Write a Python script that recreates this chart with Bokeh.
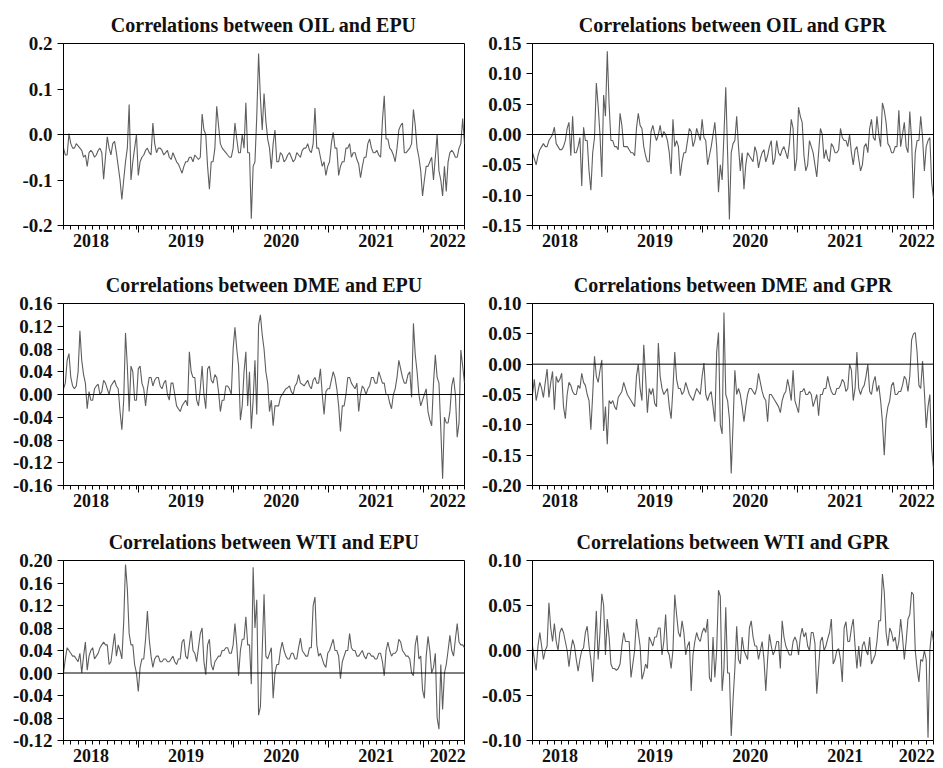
import numpy as np
import pandas as pd
from bokeh.plotting import figure
from bokeh.layouts import column, row
from bokeh.models import Range1d, FixedTicker, LinearAxis, Span, PrintfTickFormatter
from bokeh.embed import file_html
from bokeh.resources import INLINE

# ---------------- data: weekly observations read from the picture ----------------
# "_a" = weeks 1, 3, 5, ... (111 values), "_b" = weeks 2, 4, 6, ... (110 values)
dates = pd.date_range("2018-03-19", periods=221, freq="7D")

oil_epu_a = [-0.03, -0.045, -0.02, -0.03, -0.025, -0.035, -0.045, -0.04, -0.04, -0.045,
             -0.03, -0.098, -0.005, -0.045, -0.015, -0.07, -0.143, -0.06, 0.066, -0.06,
             0.0, -0.06, -0.045, -0.03, -0.045, -0.02, -0.03, -0.035, -0.04, -0.05,
             -0.04, -0.06, -0.075, -0.07, -0.06, -0.05, -0.045, -0.055, 0.045, 0.0,
             -0.12, -0.06, 0.062, -0.02, -0.035, -0.045, -0.05, 0.025, -0.04, 0.0,
             0.07, -0.04, -0.07, 0.04, 0.08, 0.09, -0.01, -0.075, 0.01, -0.06,
             -0.045, -0.055, -0.04, -0.06, -0.04, -0.05, -0.03, -0.02, -0.04, 0.058,
             -0.03, -0.07, -0.09, -0.06, 0.005, -0.03, -0.07, -0.06, -0.03, -0.05,
             -0.04, -0.065, -0.07, -0.05, -0.01, -0.04, -0.035, -0.05, 0.085, -0.01,
             -0.035, -0.06, 0.01, 0.025, -0.04, -0.03, 0.055, -0.03, -0.08, -0.1,
             -0.07, -0.05, -0.05, -0.08, -0.135, -0.125, -0.04, -0.04, -0.05, -0.02, -0.02]
oil_epu_b = [-0.045, 0.002, -0.03, -0.02, -0.03, -0.05, -0.07, -0.035, -0.05, -0.035,
             -0.04, -0.05, -0.03, -0.02, -0.04, -0.1, -0.1, -0.03, -0.1, -0.03,
             -0.09, -0.05, -0.035, -0.04, 0.025, -0.04, -0.03, -0.045, -0.035, -0.055,
             -0.05, -0.065, -0.085, -0.06, -0.05, -0.06, -0.05, -0.05, 0.01, -0.07,
             -0.06, -0.03, 0.02, -0.03, -0.04, -0.05, -0.03, -0.01, -0.04, -0.03,
             -0.04, -0.185, -0.06, 0.178, 0.01, 0.03, -0.03, -0.02, -0.06, -0.04,
             -0.06, -0.045, -0.05, -0.055, -0.045, -0.035, -0.03, -0.035, -0.02, -0.03,
             -0.05, -0.06, -0.07, -0.02, -0.03, -0.09, -0.06, -0.03, -0.02, -0.04,
             -0.055, -0.095, -0.05, -0.02, -0.03, -0.04, -0.045, 0.03, -0.01, -0.03,
             -0.045, -0.03, 0.02, -0.04, -0.035, -0.02, 0.02, -0.05, -0.135, -0.07,
             -0.06, -0.1, 0.0, -0.1, -0.07, -0.06, -0.035, -0.05, -0.03, 0.035]

oil_gpr_a = [-0.03, -0.05, -0.025, -0.015, -0.02, -0.005, 0.012, -0.02, -0.025, -0.01,
             0.02, 0.03, -0.03, -0.005, 0.012, -0.01, -0.092, -0.005, 0.047, -0.07,
             0.03, 0.05, -0.01, -0.02, 0.035, -0.02, -0.02, -0.03, -0.035, 0.035,
             0.01, -0.035, -0.045, 0.015, -0.01, 0.015, 0.005, -0.01, -0.065, -0.02,
             -0.02, -0.045, -0.03, 0.01, -0.02, 0.01, -0.01, -0.005, -0.05, -0.02,
             0.02, -0.095, -0.075, 0.078, -0.14, -0.015, 0.03, -0.06, -0.09, -0.03,
             -0.04, -0.02, -0.055, -0.03, -0.045, -0.02, -0.05, -0.01, -0.035, -0.02,
             -0.04, 0.025, -0.06, 0.045, 0.02, -0.06, -0.01, -0.03, -0.07, 0.01,
             -0.04, -0.04, -0.015, -0.03, -0.025, -0.005, -0.01, 0.0, -0.05, -0.02,
             -0.06, -0.02, -0.03, 0.025, -0.01, 0.0, 0.052, 0.02, -0.02, -0.03,
             -0.02, -0.02, 0.02, -0.03, -0.01, -0.03, -0.01, -0.005, -0.02, -0.005, -0.105]
oil_gpr_b = [-0.04, -0.035, -0.02, -0.02, -0.01, 0.0, -0.015, -0.025, -0.02, 0.01,
             -0.035, -0.03, -0.02, -0.085, -0.01, -0.06, -0.03, 0.085, 0.0, 0.065,
             0.137, -0.01, -0.02, -0.025, 0.015, -0.02, -0.025, -0.03, 0.01, 0.015,
             -0.02, -0.045, 0.005, 0.0, 0.0, -0.005, 0.0, -0.03, 0.025, -0.01,
             -0.068, -0.03, -0.01, 0.005, -0.01, 0.0, 0.025, -0.01, -0.035, 0.0,
             -0.02, -0.05, 0.0, -0.03, -0.03, -0.01, -0.02, -0.03, -0.05, -0.035,
             -0.045, -0.03, -0.04, -0.025, -0.035, -0.01, -0.04, -0.03, -0.025, -0.03,
             -0.015, 0.01, -0.04, 0.03, -0.035, -0.05, -0.02, -0.05, -0.03, 0.0,
             -0.025, -0.045, -0.02, -0.03, 0.01, -0.01, -0.02, -0.03, -0.025, -0.04,
             -0.05, -0.015, 0.01, -0.005, 0.03, -0.02, 0.04, -0.015, -0.03, -0.02,
             0.04, 0.0, -0.02, 0.038, -0.105, -0.01, 0.03, -0.06, -0.01, -0.08]

dme_epu_a = [0.01, 0.06, 0.03, 0.01, 0.04, 0.06, 0.02, 0.005, -0.01, 0.015,
             0.0, 0.025, 0.01, 0.015, 0.025, 0.01, -0.062, 0.108, -0.03, 0.04,
             -0.01, 0.05, 0.01, 0.01, 0.03, 0.025, 0.03, 0.01, 0.025, -0.01,
             0.02, -0.02, -0.03, -0.015, -0.02, 0.04, 0.03, -0.02, 0.05, -0.025,
             0.05, 0.02, 0.03, -0.03, -0.01, 0.015, 0.0, 0.118, 0.05, -0.02,
             0.075, 0.04, -0.01, -0.035, 0.14, 0.08, 0.02, -0.01, -0.02, -0.02,
             0.0, 0.01, 0.015, 0.0, 0.02, 0.02, 0.015, 0.025, 0.01, 0.03,
             0.02, 0.0, 0.005, 0.01, 0.04, 0.01, -0.065, -0.02, 0.03, 0.02,
             0.01, -0.03, 0.015, 0.0, 0.015, 0.03, 0.02, 0.03, 0.02, 0.0,
             -0.025, 0.01, 0.06, 0.03, 0.02, 0.04, 0.125, 0.04, -0.02, 0.0,
             -0.03, -0.055, 0.07, 0.02, -0.148, -0.05, -0.03, 0.03, -0.075, 0.078, 0.02]
dme_epu_b = [0.02, 0.072, 0.015, 0.015, 0.112, 0.035, -0.025, -0.01, 0.01, 0.018,
             0.005, 0.02, 0.0, 0.02, 0.015, -0.03, -0.01, 0.05, 0.05, -0.01,
             0.045, 0.02, -0.02, 0.03, 0.015, 0.03, 0.015, 0.02, 0.0, 0.02,
             0.0, -0.025, -0.02, -0.01, 0.075, 0.03, -0.01, 0.01, 0.0, 0.045,
             0.025, 0.035, 0.005, -0.01, 0.015, 0.01, 0.08, 0.08, -0.045, 0.04,
             -0.02, -0.06, 0.06, 0.122, 0.105, 0.04, -0.03, -0.055, -0.02, -0.005,
             0.005, 0.012, 0.005, 0.015, 0.035, 0.018, 0.02, 0.015, 0.025, 0.02,
             0.045, -0.035, 0.01, 0.025, 0.03, -0.02, -0.02, 0.0, 0.03, 0.015,
             0.02, 0.0, 0.01, 0.01, 0.03, 0.02, 0.04, 0.02, 0.0, -0.015,
             0.0, 0.03, 0.045, 0.02, 0.035, -0.005, 0.07, 0.0, -0.01, 0.01,
             -0.045, 0.02, 0.03, -0.06, -0.04, -0.05, 0.015, 0.0, -0.05, 0.05]

dme_gpr_a = [-0.05, -0.06, -0.03, -0.055, -0.008, -0.03, -0.075, -0.03, -0.015, -0.09,
             -0.03, -0.045, -0.05, -0.04, -0.03, -0.05, -0.108, 0.013, -0.03, 0.007,
             -0.07, -0.06, -0.06, -0.075, -0.05, -0.03, -0.05, -0.06, -0.07, 0.0,
             -0.06, -0.02, -0.04, -0.04, -0.07, -0.02, -0.05, -0.04, -0.09, 0.02,
             -0.04, -0.05, -0.03, -0.05, -0.06, -0.04, -0.05, 0.002, -0.06, -0.045,
             -0.095, 0.052, -0.115, -0.05, -0.09, -0.1, -0.05, -0.05, -0.095, -0.05,
             -0.04, -0.05, -0.015, -0.045, -0.06, -0.05, -0.055, -0.065, -0.08, -0.05,
             -0.025, -0.06, -0.06, -0.08, -0.045, -0.05, -0.045, -0.07, -0.05, -0.05,
             -0.04, -0.02, -0.045, -0.05, -0.04, -0.025, -0.045, 0.0, -0.06, 0.02,
             -0.05, -0.035, 0.0, -0.05, -0.02, -0.035, -0.095, -0.09, -0.06, -0.03,
             -0.05, -0.045, -0.02, -0.045, 0.04, 0.052, -0.035, 0.005, -0.105, -0.05, -0.172]
dme_gpr_b = [-0.025, -0.045, -0.04, -0.03, -0.055, -0.012, -0.02, -0.025, -0.07, -0.05,
             -0.035, -0.05, -0.035, -0.015, -0.035, -0.06, -0.05, -0.02, -0.01, -0.11,
             -0.132, -0.065, -0.07, -0.055, -0.045, -0.04, -0.055, -0.065, -0.02, -0.04,
             0.032, -0.08, -0.05, -0.065, 0.035, -0.04, -0.045, -0.07, -0.04, -0.025,
             -0.04, -0.045, -0.04, -0.055, -0.05, -0.045, -0.02, -0.05, -0.05, -0.07,
             0.02, -0.1, 0.085, -0.06, -0.18, -0.01, -0.04, -0.07, -0.07, -0.04,
             -0.045, -0.04, -0.03, -0.055, -0.095, -0.05, -0.06, -0.07, -0.06, -0.045,
             -0.04, -0.01, -0.07, -0.045, -0.04, -0.05, -0.05, -0.06, -0.085, -0.05,
             -0.04, -0.035, -0.05, -0.04, -0.035, -0.03, -0.04, -0.01, -0.04, -0.04,
             -0.04, -0.02, -0.045, -0.03, -0.045, -0.06, -0.15, -0.07, -0.035, -0.05,
             -0.045, -0.035, -0.025, -0.02, 0.05, 0.02, -0.04, -0.045, -0.07, -0.14]

wti_epu_a = [0.0, 0.045, 0.035, 0.03, 0.02, 0.0, 0.055, 0.03, 0.045, 0.03,
             0.045, 0.055, 0.05, 0.02, 0.07, 0.05, 0.025, 0.193, 0.07, 0.05,
             0.0, 0.01, 0.025, 0.11, 0.03, 0.025, 0.03, 0.02, 0.025, 0.02,
             0.03, 0.015, 0.025, 0.06, 0.025, 0.075, 0.035, 0.045, 0.08, -0.003,
             0.06, 0.005, 0.025, 0.03, 0.04, 0.045, 0.035, 0.088, -0.005, 0.06,
             0.1, 0.05, 0.188, 0.13, -0.06, 0.14, 0.025, 0.045, 0.0, 0.015,
             0.055, 0.03, 0.025, 0.035, 0.025, 0.062, 0.035, 0.03, 0.045, 0.135,
             0.03, 0.025, 0.01, 0.04, 0.06, 0.04, -0.01, 0.03, 0.04, 0.045,
             0.04, 0.03, 0.04, 0.025, 0.035, 0.03, 0.025, 0.035, -0.005, 0.055,
             0.03, 0.035, 0.06, 0.04, 0.03, 0.025, -0.005, 0.067, 0.03, -0.045,
             0.065, 0.0, 0.035, -0.1, -0.065, 0.015, 0.067, 0.03, 0.088, 0.05, 0.045]
wti_epu_b = [0.025, 0.04, 0.03, 0.025, 0.035, 0.03, 0.005, 0.04, 0.025, 0.035,
             0.05, 0.05, 0.015, 0.045, 0.03, 0.04, 0.09, 0.15, 0.05, 0.015,
             -0.033, 0.025, 0.06, 0.06, 0.01, 0.03, 0.02, 0.025, 0.02, 0.025,
             0.02, 0.025, 0.055, 0.03, 0.05, 0.04, 0.02, 0.07, 0.02, 0.05,
             0.015, 0.02, 0.03, 0.04, 0.045, 0.035, 0.05, 0.05, 0.04, 0.06,
             0.05, -0.02, 0.08, -0.075, 0.04, 0.03, 0.035, -0.045, 0.015, 0.04,
             0.04, 0.025, 0.035, 0.025, 0.045, 0.04, 0.03, 0.045, 0.12, 0.05,
             0.035, 0.015, 0.035, 0.05, 0.04, 0.03, 0.02, 0.04, 0.07, 0.04,
             0.03, 0.035, 0.03, 0.035, 0.03, 0.025, 0.035, 0.02, 0.04, 0.04,
             0.035, 0.04, 0.055, 0.035, 0.03, 0.0, 0.05, 0.025, -0.03, 0.03,
             0.04, 0.01, -0.08, 0.015, 0.0, 0.04, 0.04, 0.06, 0.055, 0.05]

wti_gpr_a = [0.005, -0.022, 0.02, -0.01, 0.005, 0.025, 0.03, 0.0, 0.025, 0.01,
             -0.018, 0.012, -0.01, -0.01, 0.003, 0.027, -0.01, 0.0, -0.01, 0.063,
             -0.005, 0.015, -0.02, -0.022, -0.015, 0.02, 0.01, -0.03, 0.0, 0.02,
             -0.032, -0.015, 0.015, 0.005, 0.015, 0.025, 0.01, 0.0, -0.02, 0.062,
             0.02, 0.033, -0.005, 0.01, -0.005, 0.02, 0.01, 0.025, 0.035, -0.035,
             -0.03, 0.067, -0.045, 0.048, -0.025, -0.055, 0.027, -0.015, 0.0, -0.01,
             0.033, 0.005, -0.01, 0.01, -0.045, 0.018, -0.005, 0.01, -0.02, 0.015,
             0.0, -0.005, 0.015, -0.005, 0.025, 0.02, 0.0, 0.02, -0.048, 0.01,
             0.0, 0.013, 0.035, -0.01, 0.002, -0.035, 0.032, 0.01, 0.035, -0.02,
             -0.018, 0.01, -0.005, -0.015, -0.005, 0.033, 0.085, 0.02, 0.025, 0.01,
             0.0, 0.035, -0.01, 0.035, 0.065, 0.0, -0.035, -0.012, -0.01, 0.0, 0.01]
wti_gpr_b = [-0.01, 0.005, 0.005, 0.0, 0.053, 0.01, 0.01, 0.02, 0.02, 0.0,
             0.0, 0.005, -0.023, 0.0, 0.02, 0.005, -0.035, 0.044, 0.02, 0.05,
             0.035, -0.015, -0.02, -0.02, 0.005, 0.01, 0.01, -0.015, 0.035, 0.005,
             -0.025, -0.02, 0.01, 0.015, 0.025, -0.005, 0.04, -0.005, 0.0, 0.04,
             0.015, 0.02, 0.005, -0.045, 0.01, 0.013, 0.02, 0.02, -0.03, 0.015,
             0.0, 0.06, -0.02, -0.025, -0.095, -0.02, -0.01, 0.015, -0.005, 0.025,
             0.015, 0.005, 0.0, -0.01, -0.01, 0.005, 0.0, 0.01, 0.033, 0.005,
             -0.005, 0.01, 0.01, 0.015, 0.015, 0.005, 0.02, 0.008, -0.02, 0.015,
             0.005, 0.02, -0.015, 0.0, -0.01, 0.025, 0.01, 0.025, 0.005, 0.005,
             0.005, 0.0, 0.015, -0.01, 0.01, 0.033, 0.065, 0.005, 0.02, 0.015,
             0.01, 0.015, 0.01, 0.04, 0.062, -0.02, -0.01, 0.0, -0.097, 0.022]

titles = ["Correlations between OIL and EPU", "Correlations between OIL and GPR",
          "Correlations between DME and EPU", "Correlations between DME and GPR",
          "Correlations between WTI and EPU", "Correlations between WTI and GPR"]

yticks_oil_epu = [-0.2, -0.1, 0.0, 0.1, 0.2]
yticks_oil_gpr = [-0.15, -0.10, -0.05, 0.0, 0.05, 0.10, 0.15]
yticks_dme_epu = [-0.16, -0.12, -0.08, -0.04, 0.0, 0.04, 0.08, 0.12, 0.16]
yticks_dme_gpr = [-0.20, -0.15, -0.10, -0.05, 0.0, 0.05, 0.10]
yticks_wti_epu = [-0.12, -0.08, -0.04, 0.0, 0.04, 0.08, 0.12, 0.16, 0.20]
yticks_wti_gpr = [-0.10, -0.05, 0.0, 0.05, 0.10]

year_starts = [2019, 2020, 2021, 2022]
year_label_pos = [2018.5, 2019.5, 2020.5, 2021.5, 2022.25]
year_labels = ["2018", "2019", "2020", "2021", "2022"]


def weekly(a, b):
    s = np.empty(len(a) + len(b))
    s[0::2] = a
    s[1::2] = b
    return s


def frac_year(d):
    d = pd.DatetimeIndex(d)
    ndays = np.where(d.is_leap_year, 366.0, 365.0)
    return np.asarray(d.year + (d.dayofyear - 1) / ndays, dtype=float)


x = frac_year(dates)
minor_ticks = list(frac_year(pd.date_range(dates[0], dates[-1], freq="28D")))

FONT = "Liberation Serif"
LINE_COLOR = "#5e5e5e"
TEXT_COLOR = "#111111"


def make_panel(title, values, yticks, yfmt, w, h, bl, br, bt, bb):
    p = figure(width=w, height=h,
               min_border_left=bl, min_border_right=br,
               min_border_top=bt, min_border_bottom=bb,
               x_range=Range1d(x[0], x[-1]),
               y_range=Range1d(yticks[0], yticks[-1]),
               output_backend="svg", toolbar_location=None, tools="")
    p.background_fill_color = "white"
    p.border_fill_color = "white"
    p.title.text = title
    p.title.align = "center"
    p.title.text_font = FONT
    p.title.text_font_size = "20px"
    p.title.text_font_style = "bold"
    p.title.text_color = TEXT_COLOR
    p.title.standoff = 16

    p.xgrid.visible = False
    p.ygrid.visible = False
    p.outline_line_color = "black"
    p.outline_line_width = 1
    p.outline_line_alpha = 1.0

    p.line(x, values, line_color=LINE_COLOR, line_width=1.1)
    p.add_layout(Span(location=0, dimension="width", line_color="black", line_width=1))

    # y axis
    ya = p.yaxis[0]
    ya.ticker = FixedTicker(ticks=yticks, minor_ticks=[])
    ya.formatter = PrintfTickFormatter(format=yfmt)
    ya.major_tick_out = 6
    ya.major_tick_in = 0
    ya.minor_tick_out = 0
    ya.minor_tick_in = 0
    ya.major_label_standoff = 5
    ya.major_label_text_font = FONT
    ya.major_label_text_font_size = "19px"
    ya.major_label_text_font_style = "bold"
    ya.major_label_text_color = TEXT_COLOR
    ya.axis_line_color = "black"
    ya.major_tick_line_color = "black"

    # x axis (closest to frame): long year-boundary ticks only, no major ticks -> no labels
    xa = p.xaxis[0]
    xa.ticker = FixedTicker(ticks=[], minor_ticks=year_starts)
    xa.major_tick_out = 0
    xa.major_tick_in = 0
    xa.minor_tick_out = 7
    xa.minor_tick_in = 0
    xa.major_label_standoff = 0
    xa.axis_line_color = "black"
    xa.minor_tick_line_color = "black"

    # x axis (outer): year labels + short 4-weekly ticks reaching back to the frame
    xl = LinearAxis(ticker=FixedTicker(ticks=year_label_pos, minor_ticks=minor_ticks),
                    formatter=PrintfTickFormatter(format="%d"),
                    major_label_overrides={float(k): v for k, v in zip(year_label_pos, year_labels)})
    xl.major_tick_out = 0
    xl.major_tick_in = 0
    xl.minor_tick_in = 7
    xl.minor_tick_out = -3
    xl.axis_line_color = None
    xl.major_tick_line_color = None
    xl.minor_tick_line_color = "black"
    xl.major_label_standoff = 1
    xl.major_label_text_font = FONT
    xl.major_label_text_font_size = "18px"
    xl.major_label_text_font_style = "bold"
    xl.major_label_text_color = TEXT_COLOR
    p.add_layout(xl, "below")
    return p


# the page is drawn from (0, 0): Bokeh's standalone template removes the body margin
LW, RW = 470, 472
p1 = make_panel(titles[0], weekly(oil_epu_a, oil_epu_b), yticks_oil_epu, "%.1f", LW, 262, 63, 6, 43, 37)
p2 = make_panel(titles[1], weekly(oil_gpr_a, oil_gpr_b), yticks_oil_gpr, "%.2f", RW, 262, 62, 9, 43, 37)
p3 = make_panel(titles[2], weekly(dme_epu_a, dme_epu_b), yticks_dme_epu, "%.2f", LW, 258, 63, 6, 41, 35)
p4 = make_panel(titles[3], weekly(dme_gpr_a, dme_gpr_b), yticks_dme_gpr, "%.2f", RW, 258, 62, 9, 41, 35)
p5 = make_panel(titles[4], weekly(wti_epu_a, wti_epu_b), yticks_wti_epu, "%.2f", LW, 248, 63, 6, 40, 28)
p6 = make_panel(titles[5], weekly(wti_gpr_a, wti_gpr_b), yticks_wti_gpr, "%.2f", RW, 248, 62, 9, 40, 28)

layout = column(row(p1, p2), row(p3, p4), row(p5, p6))

open("out.html", "w").write(file_html(layout, INLINE))
